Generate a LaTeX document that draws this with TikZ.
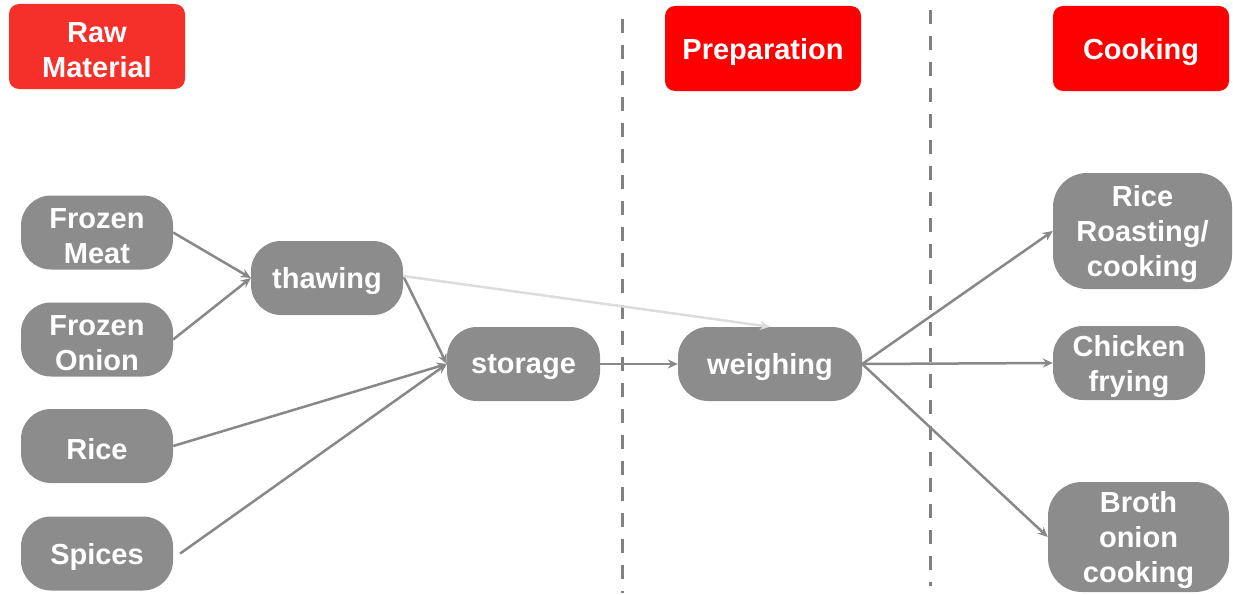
\documentclass[tikz,border=0pt]{standalone}
\usepackage{fontspec}
\setmainfont{Liberation Sans}
\usetikzlibrary{arrows.meta}
\definecolor{boxgray}{HTML}{8C8C8C}
\definecolor{linegray}{HTML}{888888}
\definecolor{faintgray}{HTML}{DCDCDC}
\definecolor{dashgray}{HTML}{808080}
\definecolor{rawred}{HTML}{F5302A}
\definecolor{phasered}{HTML}{FF0000}
\begin{document}
\begin{tikzpicture}[x=1pt,y=-1pt,
  txt/.style={font=\fontsize{29}{35}\selectfont\bfseries, text=white, align=center, inner sep=0pt, yshift=-3.5pt},
  box/.style={inner sep=0pt, rounded corners=#1},
  stage/.style={box=30pt, fill=boxgray},
  phase/.style={box=10pt},
  flow/.style={draw=linegray, line width=2.5pt, -{Stealth[length=10pt,width=9pt]}},
  faint/.style={draw=faintgray, line width=2.5pt, -{Stealth[length=10pt,width=9pt]}},
  divider/.style={draw=dashgray, line width=3pt, dash pattern=on 14pt off 12pt}]
\useasboundingbox (0,0) rectangle (1233,594);

% phase headers
\node[phase, fill=rawred, minimum width=176pt, minimum height=85pt,
  label={[txt]center:{Raw\\Material}}] (raw) at (97,46.5) {};
\node[phase, fill=phasered, minimum width=196pt, minimum height=85pt,
  label={[txt]center:Preparation}] (prep) at (763,48.5) {};
\node[phase, fill=phasered, minimum width=176pt, minimum height=85pt,
  label={[txt]center:Cooking}] (cook) at (1141,48.5) {};

% phase dividers
\coordinate (d1a) at (622,19);
\coordinate (d1b) at (622,593);
\coordinate (d2a) at (930,10);
\coordinate (d2b) at (930,586);
\draw[divider] (d1a) -- (d1b);
\draw[divider] (d2a) -- (d2b);

% raw inputs
\node[stage, minimum width=152pt, minimum height=74pt,
  label={[txt]center:{Frozen\\Meat}}] (meat) at (97,232.5) {};
\node[stage, minimum width=152pt, minimum height=74pt,
  label={[txt]center:{Frozen\\Onion}}] (onion) at (97,339.5) {};
\node[stage, minimum width=152pt, minimum height=74pt,
  label={[txt]center:Rice}] (rice) at (97,446) {};
\node[stage, minimum width=152pt, minimum height=74pt,
  label={[txt]center:Spices}] (spices) at (97,553.5) {};

% intermediate steps
\node[stage, minimum width=152pt, minimum height=74pt,
  label={[txt]center:thawing}] (thaw) at (327,278) {};
\node[stage, minimum width=153pt, minimum height=74pt,
  label={[txt]center:storage}] (store) at (523.5,364) {};
\node[stage, minimum width=184pt, minimum height=74pt,
  label={[txt]center:weighing}] (weigh) at (770,364) {};

% cooking steps
\node[stage, minimum width=179pt, minimum height=116pt, box=34pt,
  label={[txt]center:{Rice\\Roasting/\\cooking}}] (roast) at (1142.5,231) {};
\node[stage, minimum width=152pt, minimum height=74pt,
  label={[txt]center:{Chicken\\frying}}] (fry) at (1129,363) {};
\node[stage, minimum width=181pt, minimum height=110pt, box=34pt,
  label={[txt]center:{Broth\\onion\\cooking}}] (broth) at (1138.5,537) {};

% flow connectors
\draw[flow] (meat.east) -- (thaw.west);
\draw[flow] (onion.east) -- (thaw.west);
\draw[flow] ([yshift=2pt]thaw.east) -- (store.west);
\draw[flow] (rice.east) -- (store.west);
\draw[flow] ([xshift=7pt]spices.east) -- (store.west);
\draw[faint] ([yshift=2pt]thaw.east) -- (weigh.north);
\draw[flow] (store.east) -- (weigh.west);
\draw[flow] (weigh.east) -- (roast.west);
\draw[flow] (weigh.east) -- (fry.west);
\draw[flow] (weigh.east) -- (broth.west);
\end{tikzpicture}
\end{document}
